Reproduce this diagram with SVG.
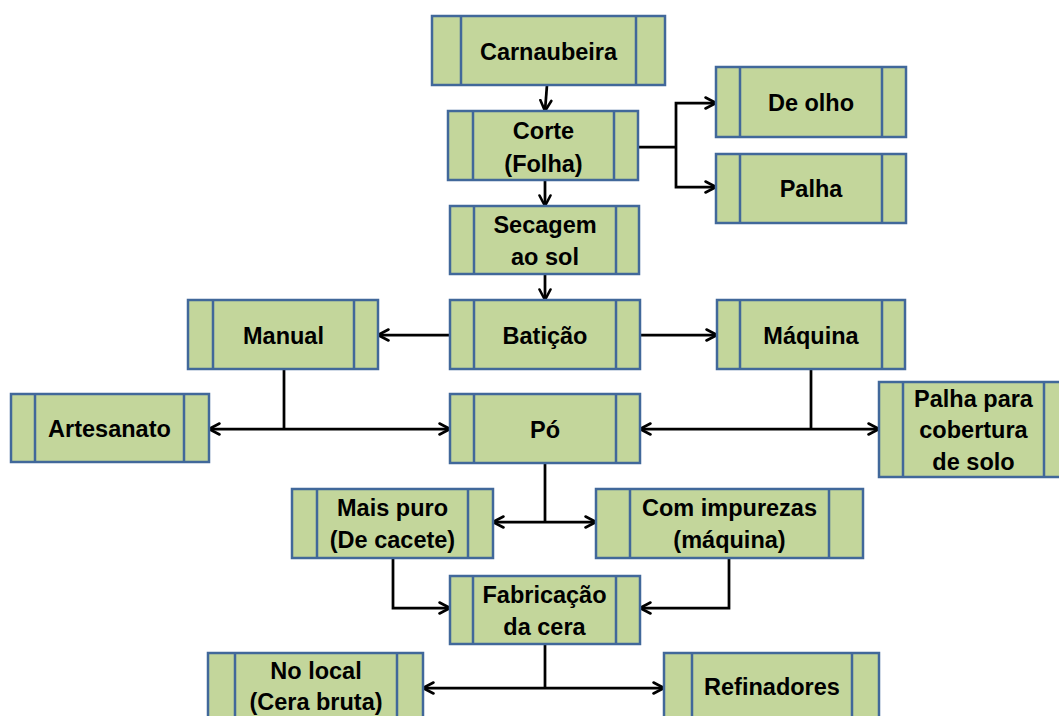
<svg xmlns="http://www.w3.org/2000/svg" width="1059" height="716" viewBox="0 0 1059 716">
<style>
.box{fill:#c3d69b;stroke:#41689a;stroke-width:2.5}
.div{stroke:#41689a;stroke-width:2.5}
.t{font-family:"Liberation Sans",Arial,sans-serif;font-weight:bold;font-size:23.5px;fill:#000;text-anchor:middle}
.c{fill:none;stroke:#000;stroke-width:2.75}
</style>
<defs>
<marker id="ah" viewBox="0 0 14 14" refX="12" refY="7" markerWidth="14" markerHeight="14" markerUnits="userSpaceOnUse" orient="auto-start-reverse">
<path d="M1.5,1.5 L12,7 L1.5,12.5" fill="none" stroke="#000" stroke-width="2.6" stroke-linecap="round" stroke-linejoin="round"/>
</marker>
</defs>
<rect width="1059" height="716" fill="#fff"/>
<g id="connectors">
<path class="c" d="M547,85 L545,111" marker-end="url(#ah)"/>
<path class="c" d="M545,180 V206" marker-end="url(#ah)"/>
<path class="c" d="M545,274 V300" marker-end="url(#ah)"/>
<path class="c" d="M638,147 H676"/>
<path class="c" d="M716,103 H676 V187 H716" marker-start="url(#ah)" marker-end="url(#ah)"/>
<path class="c" d="M450,335 H378" marker-end="url(#ah)"/>
<path class="c" d="M640,335 H717" marker-end="url(#ah)"/>
<path class="c" d="M284,369 V429"/>
<path class="c" d="M209,429 H450" marker-start="url(#ah)" marker-end="url(#ah)"/>
<path class="c" d="M811,369 V429"/>
<path class="c" d="M640,429 H879" marker-start="url(#ah)" marker-end="url(#ah)"/>
<path class="c" d="M545,463 V522"/>
<path class="c" d="M493,522 H596" marker-start="url(#ah)" marker-end="url(#ah)"/>
<path class="c" d="M393,558 V608 H450" marker-end="url(#ah)"/>
<path class="c" d="M729,558 V608 H640" marker-end="url(#ah)"/>
<path class="c" d="M545,644 V688"/>
<path class="c" d="M423,688 H664" marker-start="url(#ah)" marker-end="url(#ah)"/>
</g>
<g id="carnaubeira"><rect class="box" x="432" y="16" width="233" height="69"/><path class="div" d="M461,16V85M636,16V85"/><text class="t" x="548.5" y="60">Carnaubeira</text></g>
<g id="corte"><rect class="box" x="448" y="111" width="190" height="69"/><path class="div" d="M473,111V180M614,111V180"/><text class="t" x="543.5" y="139">Corte</text><text class="t" x="543.5" y="172">(Folha)</text></g>
<g id="de-olho"><rect class="box" x="716" y="67" width="190" height="70"/><path class="div" d="M740,67V137M882,67V137"/><text class="t" x="811" y="111">De olho</text></g>
<g id="palha"><rect class="box" x="716" y="154" width="190" height="69"/><path class="div" d="M740,154V223M882,154V223"/><text class="t" x="811" y="197">Palha</text></g>
<g id="secagem"><rect class="box" x="450" y="206" width="189" height="68"/><path class="div" d="M474,206V274M616,206V274"/><text class="t" x="545" y="233">Secagem</text><text class="t" x="545" y="265">ao sol</text></g>
<g id="baticao"><rect class="box" x="450" y="300" width="190" height="69"/><path class="div" d="M474,300V369M616,300V369"/><text class="t" x="545" y="344">Batição</text></g>
<g id="manual"><rect class="box" x="188" y="300" width="190" height="69"/><path class="div" d="M213,300V369M354,300V369"/><text class="t" x="283.5" y="344">Manual</text></g>
<g id="maquina"><rect class="box" x="717" y="300" width="188" height="69"/><path class="div" d="M740,300V369M882,300V369"/><text class="t" x="811" y="344">Máquina</text></g>
<g id="artesanato"><rect class="box" x="11" y="394" width="198" height="68"/><path class="div" d="M35,394V462M184,394V462"/><text class="t" x="109.5" y="437">Artesanato</text></g>
<g id="po"><rect class="box" x="450" y="394" width="190" height="69"/><path class="div" d="M474,394V463M616,394V463"/><text class="t" x="545" y="438">Pó</text></g>
<g id="palha-para"><rect class="box" x="879" y="382" width="189" height="95"/><path class="div" d="M903,382V477M1044,382V477"/><text class="t" x="973.5" y="407">Palha para</text><text class="t" x="973.5" y="438">cobertura</text><text class="t" x="973.5" y="470">de solo</text></g>
<g id="mais-puro"><rect class="box" x="292" y="489" width="201" height="69"/><path class="div" d="M317,489V558M468,489V558"/><text class="t" x="392.5" y="516">Mais puro</text><text class="t" x="392.5" y="548">(De cacete)</text></g>
<g id="com-impurezas"><rect class="box" x="596" y="489" width="267" height="69"/><path class="div" d="M630,489V558M829,489V558"/><text class="t" x="729.5" y="516">Com impurezas</text><text class="t" x="729.5" y="548">(máquina)</text></g>
<g id="fabricacao"><rect class="box" x="450" y="576" width="190" height="68"/><path class="div" d="M473,576V644M616,576V644"/><text class="t" x="544.5" y="603">Fabricação</text><text class="t" x="544.5" y="635">da cera</text></g>
<g id="no-local"><rect class="box" x="208" y="653" width="215" height="80"/><path class="div" d="M235,653V733M397,653V733"/><text class="t" x="316" y="679">No local</text><text class="t" x="316" y="710">(Cera bruta)</text></g>
<g id="refinadores"><rect class="box" x="664" y="653" width="215" height="80"/><path class="div" d="M692,653V733M852,653V733"/><text class="t" x="772" y="695">Refinadores</text></g>
</svg>
